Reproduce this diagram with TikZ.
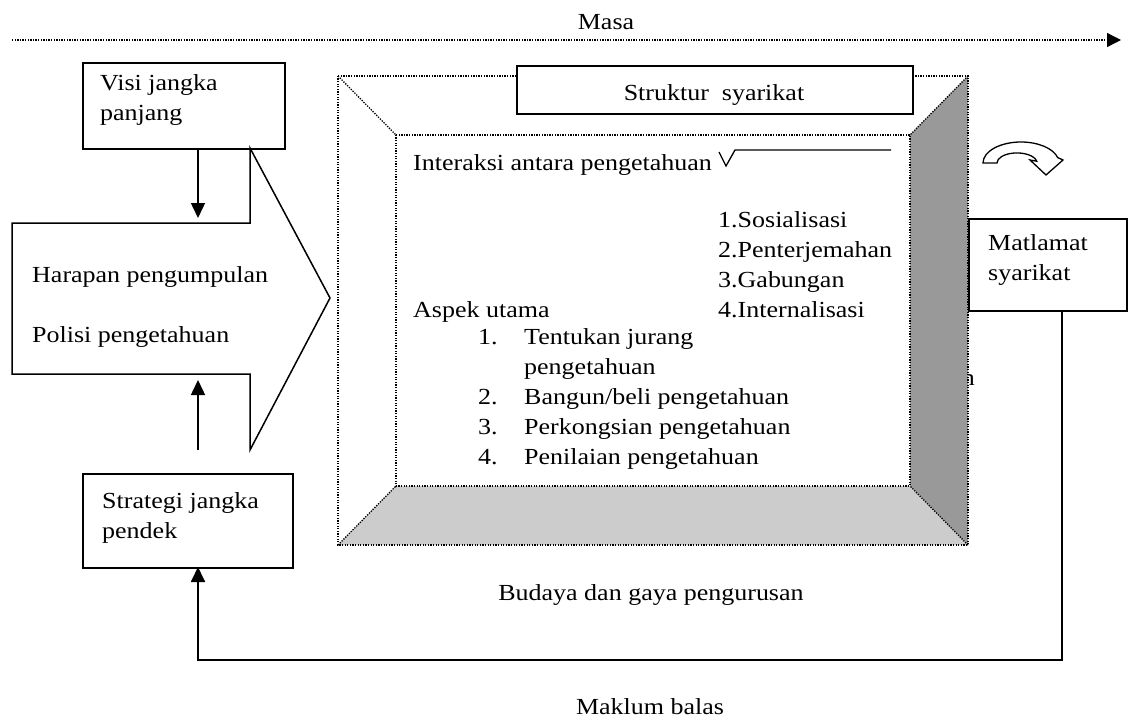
\documentclass[tikz,border=0pt]{standalone}
\usepackage{fontspec}
\setmainfont{Liberation Serif}[FakeStretch=1.13]
\usetikzlibrary{arrows.meta}
\definecolor{dgray}{HTML}{999999}
\definecolor{lgray}{HTML}{CCCCCC}
\begin{document}
\begin{tikzpicture}[x=1pt,y=-1pt,
  txt/.style={font=\fontsize{23pt}{30pt}\selectfont, inner sep=0pt},
  box/.style={draw, line width=1.6pt, fill=white, inner sep=0pt},
  dotline/.style={line width=1.3pt, dash pattern=on 1.3pt off 1.3pt},
  arr/.style={line width=1.5pt, -{Triangle[width=14pt,length=15pt]}},
  thinline/.style={line width=1.3pt},
]
\useasboundingbox (0,0) rectangle (1128,720);

% time axis
\node[txt, anchor=base] (masa) at (606,30) {Masa};
\coordinate (m0) at (12,40);
\coordinate (m1) at (1121,40);
\draw[dotline, -{Triangle[width=14pt,length=14pt]}] (m0) -- (m1);

% hidden text fragment behind the wall
\node[txt, anchor=base east] (frag) at (975,385) {n};

% frame panels
\coordinate (o1) at (338,76);
\coordinate (o2) at (968,76);
\coordinate (o3) at (968,545);
\coordinate (o4) at (338,545);
\coordinate (i1) at (396,135);
\coordinate (i2) at (910,135);
\coordinate (i3) at (910,486);
\coordinate (i4) at (396,486);
\fill[dgray] (i2) -- (o2) -- (o3) -- (i3) -- cycle;
\fill[lgray] (i4) -- (i3) -- (o3) -- (o4) -- cycle;
\draw[dotline] (o1) -- (o2) -- (o3) -- (o4) -- cycle;
\draw[dotline] (i1) -- (i2) -- (i3) -- (i4) -- cycle;
\draw[dotline] (o1) -- (i1);
\draw[dotline] (o2) -- (i2);
\draw[dotline] (o3) -- (i3);
\draw[dotline] (o4) -- (i4);

% structure box
\node[box, minimum width=396pt, minimum height=48pt, anchor=north west] (struk) at (516,65) {};
\node[txt, anchor=base] (strukt) at (714,100) {Struktur\ \ syarikat};

% interaction line
\node[txt, anchor=base west] (inter) at (413,170) {Interaksi antara pengetahuan};
\coordinate (l0) at (891,150);
\coordinate (l1) at (735,150);
\coordinate (v0) at (719,152);
\coordinate (v1) at (726,166);
\draw[thinline] (l0) -- (l1) -- (v1) -- (v0);

% SECI list
\node[txt, anchor=base west] (s1) at (718,227) {1.Sosialisasi};
\node[txt, anchor=base west] (s2) at (718,257) {2.Penterjemahan};
\node[txt, anchor=base west] (s3) at (718,287) {3.Gabungan};
\node[txt, anchor=base west] (s4) at (718,317) {4.Internalisasi};

% aspects
\node[txt, anchor=base west] (aspek) at (413,317) {Aspek utama};
\node[txt, anchor=base west] (n1) at (478,344) {1.};
\node[txt, anchor=base west] (t1) at (524,344) {Tentukan jurang};
\node[txt, anchor=base west] (t1b) at (524,374) {pengetahuan};
\node[txt, anchor=base west] (n2) at (478,404) {2.};
\node[txt, anchor=base west] (t2) at (524,404) {Bangun/beli pengetahuan};
\node[txt, anchor=base west] (n3) at (478,434) {3.};
\node[txt, anchor=base west] (t3) at (524,434) {Perkongsian pengetahuan};
\node[txt, anchor=base west] (n4) at (478,464) {4.};
\node[txt, anchor=base west] (t4) at (524,464) {Penilaian pengetahuan};

% curved arrow
\draw[thinline, line join=miter] (983,163) arc[start angle=180, end angle=345, x radius=38, y radius=21]
  -- (1063,160) -- (1046,175) -- (1030,160) -- (1036.7,161.2)
  arc[start angle=350, end angle=180, x radius=20, y radius=10] -- cycle;

% left boxes
\node[box, minimum width=202pt, minimum height=86pt, anchor=north west] (visi) at (82,62) {};
\node[txt, anchor=base west] (visi1) at (100,90) {Visi jangka};
\node[txt, anchor=base west] (visi2) at (100,120) {panjang};

\coordinate (b1) at (12,223);
\coordinate (b2) at (250,223);
\coordinate (b3) at (250,148);
\coordinate (b4) at (330,298);
\coordinate (b5) at (250,450);
\coordinate (b6) at (250,374);
\coordinate (b7) at (12,374);
\draw[line width=1.5pt, line join=miter] (b1) -- (b2) -- (b3) -- (b4) -- (b5) -- (b6) -- (b7) -- cycle;
\node[txt, anchor=base west] (harapan) at (32,282) {Harapan pengumpulan};
\node[txt, anchor=base west] (polisi) at (32,342) {Polisi pengetahuan};

\node[box, minimum width=210pt, minimum height=94pt, anchor=north west] (strat) at (82,473) {};
\node[txt, anchor=base west] (strat1) at (102,508) {Strategi jangka};
\node[txt, anchor=base west] (strat2) at (102,538) {pendek};

\coordinate (a1s) at (198,148);
\coordinate (a1e) at (198,218);
\draw[arr] (a1s) -- (a1e);
\coordinate (a2s) at (198,450);
\coordinate (a2e) at (198,380);
\draw[arr] (a2s) -- (a2e);

% goal box
\node[box, minimum width=158pt, minimum height=92pt, anchor=north west] (mat) at (968,218) {};
\node[txt, anchor=base west] (mat1) at (988,250) {Matlamat};
\node[txt, anchor=base west] (mat2) at (988,280) {syarikat};

% feedback
\coordinate (f0) at (1062,310);
\coordinate (f1) at (1062,660);
\coordinate (f2) at (198,660);
\coordinate (f3) at (198,567);
\draw[arr, line width=1.8pt] (f0) -- (f1) -- (f2) -- (f3);

\node[txt, anchor=base] (budaya) at (651,600) {Budaya dan gaya pengurusan};
\node[txt, anchor=base] (maklum) at (650,714) {Maklum balas};
\end{tikzpicture}
\end{document}
